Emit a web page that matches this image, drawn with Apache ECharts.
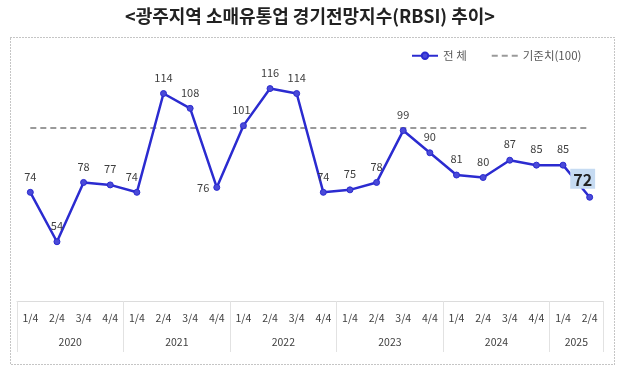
<!DOCTYPE html>
<html><head><meta charset="utf-8">
<script src="https://cdn.jsdelivr.net/npm/echarts@6/dist/echarts.min.js"></script>
<style>html,body{margin:0;padding:0;background:#fff}#c{width:620px;height:367px}</style>
</head><body><div id="c"></div>
<script>
const titleText = '<광주지역 소매유통업 경기전망지수(RBSI) 추이>';
const quarterLabels = ['1/4','2/4','3/4','4/4','1/4','2/4','3/4','4/4','1/4','2/4','3/4','4/4','1/4','2/4','3/4','4/4','1/4','2/4','3/4','4/4','1/4','2/4'];
const years = ['2020','2021','2022','2023','2024','2025'];
const quartersPerYear = [4,4,4,4,4,2];
const rbsiValues = [74,54,78,77,74,114,108,76,101,116,114,74,75,78,99,90,81,80,87,85,85,72];
const baselineValue = 100;
const seriesNames = ['전 체','기준치(100)'];

const baseline = quarterLabels.map(() => baselineValue);
const bounds = [0]; const centres = [];
quartersPerYear.forEach(n => { const s = bounds[bounds.length-1]; centres.push(s + n/2); bounds.push(s + n); });
const total = bounds[bounds.length-1];

const blue = '#2b2bd0';
const txt = '#404040';
const font = '"Noto Sans CJK KR", "Noto Sans", sans-serif';

const data = rbsiValues.map((v, i) => {
  const d = { value: v };
  if (i === 7) d.label = { position: 'left', distance: 4 };
  if (i === 4) d.label = { offset: [-5, 0] };
  if (i === 8) d.label = { offset: [-2, 0] };
  if (i === rbsiValues.length - 1) d.label = {
    fontSize: 16, fontWeight: 'bold', color: '#222', backgroundColor: '#c6dbf2',
    padding: [3, 3, 1, 3], offset: [-7, 2]
  };
  return d;
});

const chart = echarts.init(document.getElementById('c'), null, { renderer: 'canvas' });
chart.setOption({
  animation: false,
  backgroundColor: '#fff',
  textStyle: { fontFamily: font },
  title: {
    text: titleText, left: 'center', top: 2,
    textStyle: { fontSize: 18, fontWeight: 'bold', color: '#222', fontFamily: font }
  },
  legend: {
    data: [{ name: seriesNames[0] }, { name: seriesNames[1], itemStyle: { opacity: 0 } }],
    left: 406, top: 45, itemWidth: 26, itemHeight: 8, itemGap: 24,
    textStyle: { fontSize: 11.5, color: '#595959', fontFamily: font }
  },
  grid: { left: 17, right: 17, top: 54, height: 247 },
  xAxis: [{
    type: 'category', data: quarterLabels, boundaryGap: true,
    axisLine: { lineStyle: { color: '#dcdcdc' } },
    axisTick: { show: false },
    axisLabel: { color: txt, fontSize: 10.5, margin: 12, interval: 0, fontFamily: font }
  }, {
    type: 'value', min: 0, max: total, position: 'bottom',
    splitLine: { show: false },
    axisLine: { show: false },
    axisTick: { show: true, customValues: bounds, length: 51, lineStyle: { color: '#e2e2e2' } },
    axisLabel: {
      customValues: centres, margin: 36, color: txt, fontSize: 10.5, fontFamily: font,
      formatter: v => { const k = centres.indexOf(v); return k >= 0 ? years[k] : ''; }
    }
  }],
  yAxis: {
    type: 'value', min: 30, max: 130, show: false, splitLine: { show: false }
  },
  series: [{
    name: seriesNames[0], type: 'line', data: data, xAxisIndex: 0,
    color: blue,
    lineStyle: { color: blue, width: 2.5 },
    symbol: 'circle', symbolSize: 6,
    itemStyle: { color: '#4a4ad8', borderColor: blue, borderWidth: 1 },
    label: { show: true, position: 'top', distance: 7, color: txt, fontSize: 11, fontFamily: font },
    z: 3
  }, {
    name: seriesNames[1], type: 'line', data: baseline, xAxisIndex: 0,
    color: '#9a9a9a',
    lineStyle: { color: '#9a9a9a', width: 2, type: [6, 4] },
    symbol: 'none', silent: true, z: 2
  }],
  graphic: [{
    type: 'rect', left: 8, top: 35, shape: { width: 604, height: 327 },
    style: { fill: 'none', stroke: '#8a8a8a', lineWidth: 1, lineDash: [1, 2] }, silent: true
  }]
});
</script></body></html>
